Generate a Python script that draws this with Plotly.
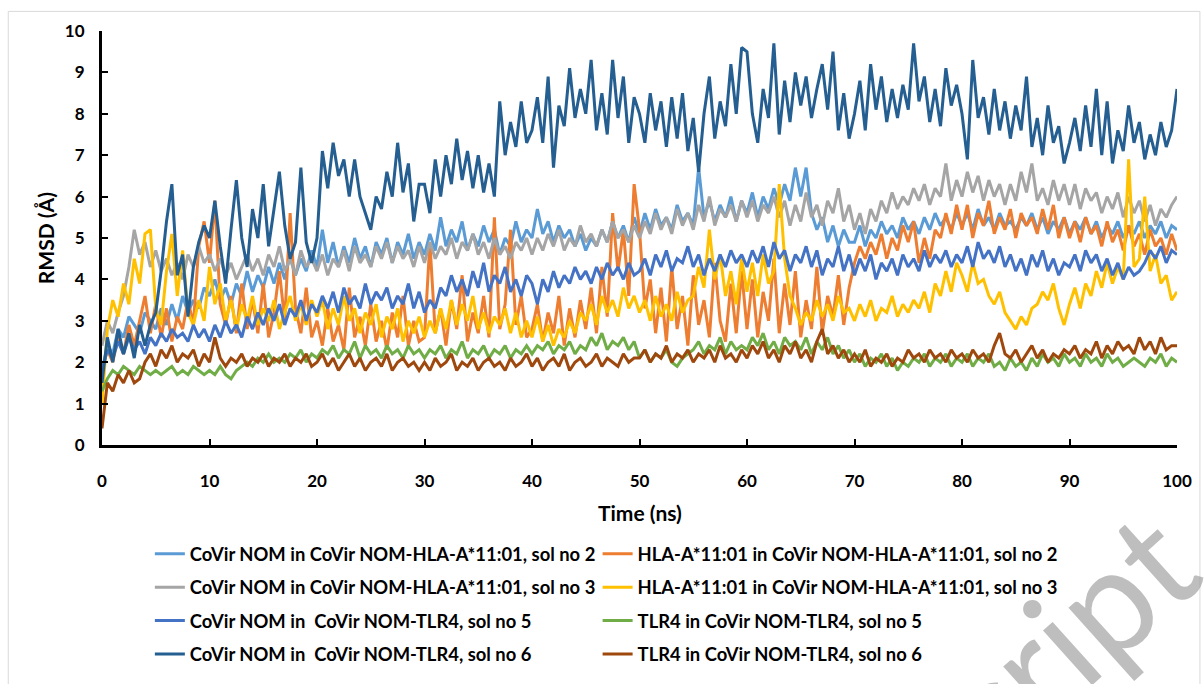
import plotly.graph_objects as go

# ---------------- data (RMSD, Å) sampled every 0.5 ns ----------------
time_ns = [k / 2 for k in range(201)]

covir_hla_sol2 = [
    1.8, 2.4, 2.2, 2.8, 2.6, 3.1, 2.9, 2.7, 3.2, 3.0, 2.8, 3.3, 2.9, 3.4, 3.0, 3.6, 3.2, 3.5, 3.3, 3.8,
    3.6, 4.0, 3.5, 3.8, 3.4, 3.9, 3.6, 4.2, 3.7, 4.1, 3.8, 4.3, 3.9, 4.4, 4.0, 4.6, 4.1, 4.5, 4.2, 4.7,
    4.3, 5.2, 4.4, 4.9, 4.3, 4.8, 4.4, 5.0, 4.5, 4.8, 4.3, 4.9, 4.6, 5.0, 4.4, 4.9, 4.6, 5.1, 4.5, 4.9,
    4.6, 5.1, 4.7, 5.5, 4.8, 5.2, 4.9, 5.4, 4.7, 5.1, 4.8, 5.3, 4.9, 5.2, 4.6, 5.0, 4.8, 5.4, 4.9, 5.2,
    5.0, 5.7, 5.1, 5.4, 4.9, 5.3, 5.0, 5.2, 4.8, 5.1, 4.7, 5.0, 4.8, 5.2, 4.9, 5.4, 5.0, 5.3, 4.9, 5.5,
    5.1, 5.6, 5.2, 5.7, 5.3, 5.5, 5.2, 5.8, 5.4, 5.6, 5.3, 6.7, 5.5, 5.9, 5.4, 5.8, 5.5, 6.0, 5.4, 5.9,
    5.6, 6.1, 5.5, 6.0, 5.7, 6.2, 5.8, 6.3, 5.9, 6.7, 6.0, 6.7, 5.6, 5.2, 5.5, 4.9, 5.3, 4.8, 5.2, 4.9,
    4.9, 5.3, 4.8, 5.2, 5.0, 5.4, 5.1, 5.3, 5.0, 5.5, 5.2, 5.4, 5.1, 5.5, 5.2, 5.6, 5.3, 5.5, 5.2, 5.6,
    5.3, 5.6, 5.2, 5.7, 5.3, 5.5, 5.2, 5.6, 5.3, 5.4, 5.2, 5.5, 5.3, 5.6, 5.2, 5.5, 5.1, 5.4, 5.2, 5.5,
    5.1, 5.4, 5.2, 5.5, 5.1, 5.4, 5.0, 5.3, 5.1, 5.4, 5.0, 5.3, 5.1, 5.4, 5.0, 5.3, 5.1, 5.4, 5.0, 5.3,
    5.2,
]

hla_hla_sol2 = [
    1.8, 2.3, 2.0, 2.6, 2.2, 2.9, 2.4, 3.0, 3.6, 2.7, 3.4, 2.6, 3.3, 2.5, 3.1, 2.8, 3.5, 2.9, 4.8, 5.4,
    4.4, 5.9, 3.4, 2.9, 3.6, 2.7, 3.9, 2.8, 3.5, 2.7, 3.9, 2.6, 3.2, 4.2, 3.0, 5.6, 3.3, 2.7, 3.8, 2.6,
    3.0, 2.4, 3.3, 2.5, 2.9, 2.3, 3.8, 2.6, 3.1, 2.4, 3.4, 2.5, 3.0, 2.3, 3.2, 2.6, 3.6, 2.4, 3.0, 2.5,
    2.6, 4.9, 2.7, 3.3, 2.4, 3.5, 2.8, 4.1, 2.5, 3.2, 2.7, 3.6, 2.6, 5.5, 2.8, 3.4, 5.2, 2.9, 3.6, 2.6,
    2.8, 3.4, 2.5, 3.2, 2.7, 3.6, 2.4, 3.3, 2.6, 3.5, 2.8, 3.8, 2.7, 4.3, 3.1, 5.6, 4.2, 5.2, 3.6, 6.3,
    5.2, 3.3, 4.0, 2.7, 3.8, 2.5, 4.3, 2.8, 3.6, 2.4, 4.1, 2.9, 3.5, 2.6, 4.4, 3.0, 2.5, 3.9, 2.7, 4.2,
    2.8, 4.0, 2.6, 3.7, 3.0, 4.5, 2.7, 3.9, 2.9, 4.2, 2.6, 3.5, 2.8, 4.3, 2.7, 3.6, 3.1, 4.1, 2.9, 3.8,
    4.4, 4.8, 4.5, 4.9, 4.6, 5.1, 4.5, 5.0, 4.7, 5.3, 4.9, 5.4, 4.4, 5.0, 4.5, 5.2, 5.0, 5.6, 5.1, 5.8,
    5.2, 5.8, 5.0, 5.6, 5.3, 5.9, 5.1, 5.5, 5.2, 5.7, 5.0, 5.6, 5.3, 5.5, 5.1, 5.7, 5.2, 5.8, 5.0, 5.5,
    5.0, 5.4, 4.9, 5.5, 5.1, 5.3, 4.8, 5.4, 4.9, 5.2, 4.7, 5.3, 4.8, 5.1, 4.6, 5.2, 4.8, 5.0, 4.6, 5.1,
    4.7,
]

covir_hla_sol3 = [
    2.4, 3.0, 2.7, 3.2, 3.6, 4.3, 5.2, 4.6, 4.9, 4.3, 4.7, 4.2, 4.5, 4.1, 4.4, 4.0, 4.6, 4.3, 4.8, 4.4,
    4.6, 4.2, 4.5, 4.1, 4.4, 4.0, 4.3, 4.6, 4.2, 4.5, 4.1, 4.6, 4.3, 4.8, 4.2, 4.5, 4.1, 4.7, 4.3, 4.5,
    4.2, 4.6, 4.1, 4.5, 4.3, 4.7, 4.2, 4.8, 4.4, 4.6, 4.3, 4.8, 4.5, 4.9, 4.4, 4.8, 4.5, 4.7, 4.3, 4.8,
    4.4, 4.9, 4.5, 4.8, 4.6, 5.0, 4.5, 4.9, 4.7, 5.1, 4.6, 4.9, 4.5, 5.0, 4.6, 4.8, 4.5, 4.9, 4.7, 5.0,
    4.6, 5.0, 4.7, 5.1, 4.8, 5.2, 4.7, 5.0, 4.8, 5.3, 4.9, 5.1, 4.8, 5.2, 4.9, 5.4, 5.0, 5.2, 4.9, 5.3,
    5.0, 5.4, 5.1, 5.6, 5.2, 5.5, 5.1, 5.7, 5.3, 5.6, 5.2, 5.8, 5.4, 6.0, 5.3, 5.7, 5.5, 5.8, 5.4, 5.9,
    5.5, 5.9, 5.4, 5.8, 5.6, 6.0, 5.5, 5.9, 5.3, 5.8, 5.4, 6.1, 5.5, 5.8, 5.3, 5.9, 5.6, 6.2, 5.4, 5.8,
    5.2, 5.6, 5.1, 5.7, 5.4, 5.9, 5.6, 6.1, 5.7, 6.0, 5.8, 6.2, 5.9, 6.3, 5.8, 6.2, 6.0, 6.8, 5.9, 6.4,
    6.0, 6.6, 6.1, 6.5, 5.9, 6.4, 6.0, 6.3, 5.8, 6.3, 5.9, 6.6, 6.1, 6.8, 5.9, 6.2, 5.8, 6.4, 5.9, 6.3,
    5.8, 6.3, 5.7, 6.2, 5.9, 6.1, 5.6, 6.0, 5.7, 6.1, 5.5, 6.0, 5.6, 5.9, 5.4, 5.8, 5.3, 5.7, 5.5, 5.8,
    6.0,
]

hla_hla_sol3 = [
    1.0, 2.8, 3.5, 3.1, 3.9, 3.4, 4.5, 3.9, 5.1, 5.2, 3.3, 2.9, 4.2, 5.1, 3.6, 4.7, 3.2, 2.9, 3.5, 3.0,
    4.3, 3.4, 3.9, 3.0, 3.5, 2.8, 3.4, 3.0, 3.6, 2.9, 3.3, 3.0, 3.5, 2.8, 3.2, 3.6, 3.0, 3.4, 2.9, 3.5,
    3.1, 3.5, 2.8, 3.3, 2.9, 3.6, 3.0, 3.3, 2.7, 3.2, 2.9, 3.4, 2.6, 3.1, 2.8, 3.3, 2.5, 3.0, 2.7, 3.1,
    2.6, 3.0, 2.7, 3.3, 2.8, 3.5, 2.9, 3.4, 3.0, 3.6, 2.8, 3.2, 2.7, 3.1, 2.9, 3.3, 2.7, 3.2, 2.6, 3.0,
    2.6, 3.1, 2.5, 2.9, 2.4, 2.8, 2.6, 3.0, 2.7, 3.2, 3.0, 3.4, 2.9, 3.6, 3.2, 3.5, 3.1, 3.8, 3.3, 3.6,
    3.2, 3.5, 3.0, 3.6, 3.1, 3.4, 3.0, 3.7, 3.2, 3.5, 3.6, 4.3, 3.8, 5.2, 4.0, 4.6, 3.6, 4.2, 3.4, 4.5,
    3.7, 4.4, 3.6, 4.6, 3.9, 4.2, 6.3, 4.5, 3.6, 3.3, 2.9, 3.2, 3.0, 3.5, 3.1, 3.4, 3.0, 3.6, 3.2, 3.3,
    3.0, 3.4, 3.1, 3.5, 3.0, 3.3, 3.2, 3.6, 3.1, 3.4, 3.2, 3.5, 3.3, 3.7, 3.2, 3.9, 3.6, 4.2, 3.7, 4.4,
    4.1, 3.7, 4.4, 3.9, 4.0, 3.6, 3.4, 3.7, 3.2, 3.0, 2.8, 3.1, 2.9, 3.3, 3.4, 3.7, 3.5, 3.9, 3.3, 2.9,
    3.4, 3.8, 3.3, 3.9, 3.6, 4.2, 3.8, 4.4, 3.9, 4.3, 4.0, 6.9, 4.3, 4.5, 6.0, 4.2, 4.6, 3.9, 4.1, 3.5,
    3.7,
]

covir_tlr4_sol5 = [
    1.8, 2.3, 2.1, 2.5, 2.2, 2.6, 2.3, 2.5, 2.2, 2.6, 2.4, 2.7, 2.5, 2.8, 2.6, 2.7, 2.5, 2.9, 2.6, 2.8,
    2.5, 2.9, 2.6, 3.0, 2.7, 2.9, 2.6, 3.1, 2.8, 3.2, 2.9, 3.3, 3.0, 3.4, 2.9, 3.3, 3.1, 3.5, 3.0, 3.4,
    3.2, 3.6, 3.3, 3.7, 3.2, 3.8, 3.4, 3.6, 3.3, 3.9, 3.4, 3.7, 3.5, 3.8, 3.3, 3.6, 3.4, 3.9, 3.3, 3.7,
    3.2, 3.5, 3.3, 3.8, 3.6, 4.1, 3.7, 4.0, 3.6, 4.2, 3.8, 4.4, 3.7, 4.1, 3.9, 4.3, 3.7, 4.0, 3.6, 4.1,
    3.9, 3.4, 4.0, 3.7, 4.2, 3.8, 4.1, 3.9, 4.3, 4.0, 4.2, 3.9, 4.3, 4.0, 4.4, 4.1, 4.3, 4.0, 4.4, 4.1,
    4.2, 4.5, 4.1, 4.6, 4.3, 4.7, 4.2, 4.5, 4.4, 4.8, 4.3, 4.6, 4.1, 4.5, 4.2, 4.6, 4.3, 4.7, 4.4, 4.6,
    4.3, 4.7, 4.4, 4.8, 4.3, 4.9, 4.5, 4.7, 4.2, 4.6, 4.4, 4.8, 4.3, 4.7, 4.1, 4.5, 4.3, 4.8, 4.2, 4.6,
    4.1, 4.5, 4.2, 4.6, 4.0, 4.4, 4.2, 4.5, 4.1, 4.6, 4.3, 4.5, 4.2, 4.7, 4.3, 4.6, 4.4, 4.7, 4.3, 4.6,
    4.4, 4.8, 4.3, 4.9, 4.5, 4.7, 4.4, 4.8, 4.3, 4.6, 4.2, 4.5, 4.1, 4.6, 4.3, 4.7, 4.2, 4.5, 4.1, 4.4,
    4.3, 4.6, 4.2, 4.7, 4.4, 4.6, 4.2, 4.5, 4.1, 4.4, 4.0, 4.3, 4.1, 4.2, 4.4, 4.7, 4.5, 4.8, 4.4, 4.7,
    4.6,
]

tlr4_tlr4_sol5 = [
    1.3, 1.6, 1.8, 1.7, 1.9, 1.8, 1.7, 1.9, 1.8, 1.7, 1.8, 1.7, 1.8, 1.9, 1.7, 1.8, 1.7, 1.9, 1.8, 1.7,
    1.8, 1.7, 1.9, 1.7, 1.6, 1.8, 1.9, 2.0, 1.9, 2.1, 2.0, 2.2, 2.0, 2.1, 2.0, 2.2, 2.1, 2.3, 2.0, 2.2,
    2.1, 2.3, 2.2, 2.4, 2.1, 2.3, 2.2, 2.5, 2.1, 2.4, 2.2, 2.3, 2.1, 2.4, 2.2, 2.3, 2.1, 2.4, 2.2, 2.3,
    2.1, 2.3, 2.2, 2.4, 2.1, 2.3, 2.2, 2.5, 2.1, 2.3, 2.2, 2.4, 2.1, 2.3, 2.2, 2.4, 2.1, 2.3, 2.2, 2.4,
    2.2, 2.4, 2.3, 2.5, 2.2, 2.4, 2.3, 2.5, 2.2, 2.4, 2.3, 2.6, 2.4, 2.7, 2.3, 2.5, 2.4, 2.6, 2.3, 2.5,
    2.1, 2.3, 2.0, 2.2, 2.1, 2.3, 2.0, 1.9, 2.1, 2.2, 2.3, 2.5, 2.2, 2.4, 2.3, 2.6, 2.2, 2.5, 2.3, 2.4,
    2.3, 2.6, 2.4, 2.7, 2.3, 2.5, 2.2, 2.6, 2.4, 2.5, 2.3, 2.6, 2.2, 2.5, 2.3, 2.6, 2.2, 2.4, 2.1, 2.3,
    2.0, 2.2, 1.9, 2.1, 2.0, 2.2, 1.9, 2.1, 1.8, 2.0, 1.9, 2.1, 2.0, 2.2, 1.9, 2.1, 2.0, 2.2, 1.9, 2.1,
    2.0, 2.2, 1.9, 2.1, 2.0, 2.2, 1.9, 2.0, 1.8, 2.1, 1.9, 2.0, 1.8, 2.1, 1.9, 2.2, 2.0, 2.1, 1.9, 2.2,
    2.0, 2.1, 1.9, 2.2, 2.0, 2.1, 1.9, 2.2, 2.0, 2.1, 1.9, 2.0, 2.1, 2.0, 1.9, 2.1, 2.0, 2.2, 1.9, 2.1,
    2.0,
]

covir_tlr4_sol6 = [
    1.5, 2.6, 2.0, 2.8, 2.2, 2.7, 2.1, 2.9, 2.4, 2.9, 3.2, 4.2, 5.4, 6.3, 4.1, 4.6, 3.1, 4.3, 4.9, 5.3,
    5.0, 5.9, 4.8, 3.9, 5.2, 6.4, 5.0, 4.3, 5.7, 5.0, 6.3, 4.8, 5.7, 6.6, 5.3, 4.5, 4.9, 6.7, 4.9, 4.4,
    5.0, 7.1, 6.2, 7.3, 6.5, 6.9, 6.0, 6.9, 6.0, 5.6, 5.2, 6.0, 5.7, 6.6, 6.0, 7.3, 6.1, 6.8, 5.4, 6.3,
    6.3, 5.6, 6.9, 6.0, 7.0, 6.3, 7.4, 6.4, 7.1, 6.2, 7.0, 6.1, 6.8, 6.0, 8.3, 7.0, 7.8, 7.2, 8.3, 7.3,
    7.6, 8.4, 7.3, 8.9, 6.7, 8.2, 7.7, 9.1, 7.9, 8.6, 8.0, 9.3, 7.6, 8.5, 7.5, 9.3, 7.9, 8.9, 7.3, 8.4,
    8.0, 7.3, 8.5, 7.6, 8.3, 7.2, 8.4, 7.4, 8.5, 7.1, 7.9, 6.6, 8.0, 8.9, 7.4, 8.3, 7.7, 9.2, 8.0, 9.6,
    9.5, 8.0, 7.3, 8.6, 7.9, 9.7, 7.5, 8.8, 7.8, 9.0, 8.2, 8.9, 7.9, 8.6, 9.2, 8.1, 9.5, 7.6, 8.5, 7.4,
    8.0, 8.8, 7.6, 9.2, 8.1, 8.9, 7.8, 8.6, 7.9, 8.7, 8.1, 9.7, 8.3, 8.9, 7.8, 8.6, 7.7, 9.1, 8.2, 8.7,
    8.0, 6.9, 9.3, 7.9, 8.4, 7.5, 8.6, 7.6, 8.3, 7.4, 8.2, 7.6, 8.9, 7.2, 7.9, 7.0, 8.2, 7.3, 7.7, 6.8,
    7.3, 7.9, 7.1, 8.2, 7.2, 8.6, 7.0, 8.3, 6.8, 7.6, 7.1, 8.2, 7.3, 7.8, 6.9, 7.5, 7.0, 7.8, 7.2, 7.6,
    8.6,
]

tlr4_tlr4_sol6 = [
    0.4, 1.5, 1.3, 1.7, 1.5, 1.8, 1.5, 1.6, 2.0, 2.2, 1.9, 2.3, 2.1, 2.4, 2.0, 2.2, 2.1, 2.3, 1.9, 2.2,
    2.0, 2.6, 2.1, 1.9, 2.1, 2.0, 2.2, 1.9, 2.1, 2.0, 2.2, 1.9, 2.1, 2.0, 2.2, 1.9, 2.1, 2.0, 2.2, 1.9,
    2.0, 2.2, 1.9, 2.1, 1.8, 2.0, 2.2, 1.9, 2.1, 1.8, 2.0, 2.1, 1.9, 2.2, 1.8, 2.0, 2.1, 1.9, 2.0, 1.8,
    2.0, 1.8, 2.1, 1.9, 2.0, 2.2, 1.8, 2.0, 1.9, 2.1, 1.8, 2.0, 2.1, 1.9, 2.0, 1.8, 2.1, 1.9, 2.0, 2.2,
    1.9, 2.1, 1.8, 2.0, 2.1, 1.9, 2.2, 1.8, 2.0, 2.1, 1.9, 2.0, 2.2, 1.9, 2.1, 2.0, 1.9, 2.2, 2.0, 2.1,
    2.1, 2.3, 2.0, 2.2, 2.1, 2.4, 2.0, 2.2, 2.1, 2.3, 2.0, 2.2, 2.1, 2.3, 2.0, 2.4, 2.1, 2.2, 2.0, 2.3,
    2.1, 2.4, 2.2, 2.5, 2.1, 2.3, 2.0, 2.4, 2.2, 2.5, 2.1, 2.3, 2.0, 2.5, 2.8, 2.2, 2.4, 2.1, 2.3, 2.0,
    2.2, 2.0, 2.3, 1.9, 2.1, 2.0, 2.2, 1.9, 2.1, 2.0, 2.3, 2.1, 2.2, 2.0, 2.3, 2.1, 2.2, 2.0, 2.3, 2.1,
    2.2, 2.0, 2.3, 2.1, 2.2, 2.0, 2.4, 2.7, 2.2, 2.1, 2.3, 2.0, 2.2, 2.4, 2.1, 2.3, 2.0, 2.2, 2.1, 2.3,
    2.2, 2.4, 2.1, 2.3, 2.2, 2.5, 2.1, 2.4, 2.2, 2.5, 2.3, 2.4, 2.2, 2.6, 2.3, 2.5, 2.2, 2.6, 2.3, 2.4,
    2.4,
]

series_values = [covir_hla_sol2, hla_hla_sol2, covir_hla_sol3, hla_hla_sol3,
                 covir_tlr4_sol5, tlr4_tlr4_sol5, covir_tlr4_sol6, tlr4_tlr4_sol6]
series_names = [
    "CoVir NOM in CoVir NOM-HLA-A*11:01, sol no 2",
    "HLA-A*11:01 in CoVir NOM-HLA-A*11:01, sol no 2",
    "CoVir NOM in CoVir NOM-HLA-A*11:01, sol no 3",
    "HLA-A*11:01 in CoVir NOM-HLA-A*11:01, sol no 3",
    "CoVir NOM in\u00a0 CoVir NOM-TLR4, sol no 5",
    "TLR4 in CoVir NOM-TLR4, sol no 5",
    "CoVir NOM in\u00a0 CoVir NOM-TLR4, sol no 6",
    "TLR4 in CoVir NOM-TLR4, sol no 6",
]
series_colors = ["#5B9BD5", "#ED7D31", "#A5A5A5", "#FFC000",
                 "#4472C4", "#70AD47", "#255E91", "#9E480E"]
x_ticks = [0, 10, 20, 30, 40, 50, 60, 70, 80, 90, 100]
y_ticks = [0, 1, 2, 3, 4, 5, 6, 7, 8, 9, 10]

for s in series_values:
    assert len(s) == len(time_ns), len(s)

# ---------------- figure ----------------
W, H = 1204, 684
L, R, T, B = 102, 24, 31, 231
PW, PH = W - L - R, H - T - B

def px_x(px):
    return (px - L) / PW

def px_y(py):
    return (H - B - py) / PH

FONT = "Lato, 'Open Sans', Roboto, sans-serif"

# one legend per entry: two columns x four rows
row_y = [564, 598, 632, 666]
col_x = [150, 599]
legend_keys = ["legend"] + ["legend%d" % k for k in range(2, 9)]

fig = go.Figure()
for i, (vals, name, col) in enumerate(zip(series_values, series_names, series_colors)):
    fig.add_trace(go.Scatter(
        x=time_ns, y=vals, mode="lines", name=name,
        line=dict(color=col, width=3), legend=legend_keys[i],
    ))

legends = {}
for i, key in enumerate(legend_keys):
    legends[key] = dict(
        orientation="v", xanchor="left", yanchor="middle",
        x=px_x(col_x[i % 2]), y=px_y(row_y[i // 2]), itemwidth=30,
        font=dict(family=FONT, size=18.4, color="#000000", weight="bold"),
        bgcolor="rgba(0,0,0,0)",
    )

fig.update_layout(
    width=W, height=H,
    margin=dict(l=L, r=R, t=T, b=B, pad=0),
    paper_bgcolor="white", plot_bgcolor="white",
    showlegend=True,
    **legends,
    xaxis=dict(
        range=[0, 100], tickvals=x_ticks, ticktext=[str(v) for v in x_ticks],
        showgrid=False, zeroline=False, showline=True, linecolor="black", linewidth=3,
        ticks="inside", ticklen=6, tickwidth=2, tickcolor="black",
        ticklabelstandoff=19,
        tickfont=dict(family=FONT, size=17, color="black", weight="bold"),
    ),
    yaxis=dict(
        range=[0, 10], tickvals=y_ticks, ticktext=[str(v) for v in y_ticks],
        showgrid=False, zeroline=False, showline=True, linecolor="black", linewidth=3,
        ticks="inside", ticklen=6, tickwidth=2, tickcolor="black",
        ticklabelstandoff=11,
        tickfont=dict(family=FONT, size=17, color="black", weight="bold"),
    ),
    annotations=[
        dict(text="Time (ns)", x=px_x(641), y=px_y(522), xref="paper", yref="paper",
             showarrow=False, xanchor="center", yanchor="middle",
             font=dict(family=FONT, size=21, color="black", weight="bold")),
        dict(text="RMSD (Å)", x=px_x(45), y=px_y(242), xref="paper", yref="paper",
             showarrow=False, xanchor="center", yanchor="middle", textangle=-90,
             font=dict(family=FONT, size=21, color="black", weight="bold")),
        dict(text="cript", x=px_x(1066), y=px_y(648), xref="paper", yref="paper",
             showarrow=False, xanchor="center", yanchor="middle", textangle=-42,
             font=dict(family="Lato, 'Open Sans', sans-serif", size=145,
                       color="rgba(150,150,150,0.62)")),
    ],
    shapes=[
        dict(type="rect", xref="paper", yref="paper",
             x0=px_x(8), x1=px_x(1203), y0=px_y(700), y1=px_y(11),
             line=dict(color="#D9D9D9", width=1), fillcolor="rgba(0,0,0,0)", layer="below"),
    ],
)

fig.write_html("out.html")
